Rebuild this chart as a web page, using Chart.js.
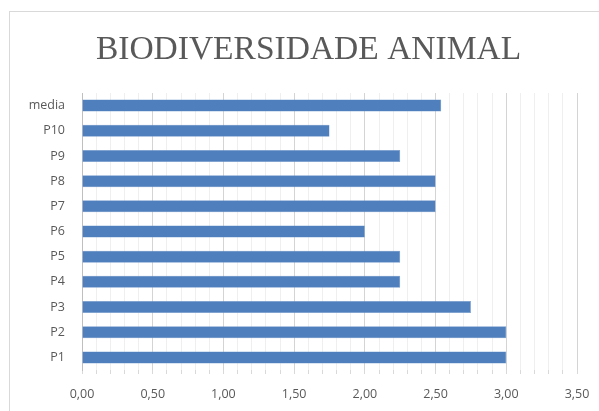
<!DOCTYPE html>
<html>
<head>
<meta charset="utf-8">
<script src="https://cdn.jsdelivr.net/npm/chart.js@4/dist/chart.umd.min.js"></script>
<style>
  body { margin: 0; background: #fff; }
  #wrap { position: relative; width: 599px; height: 411px; overflow: hidden; }
  #frame { position: absolute; left: 9px; top: 11px; width: 700px; height: 500px;
           border-left: 1px solid #d9d9d9; border-top: 1px solid #d9d9d9; }
  canvas { position: absolute; left: 0; top: 0; }
</style>
</head>
<body>
<div id="wrap">
  <div id="frame"></div>
  <canvas id="biodivChart" width="599" height="411"></canvas>
</div>
<script>
// dados
const categorias = ["P1", "P2", "P3", "P4", "P5", "P6", "P7", "P8", "P9", "P10", "media"];
const valores = [3.00, 3.00, 2.75, 2.25, 2.25, 2.00, 2.50, 2.50, 2.25, 1.75, 2.54];
const tituloGrafico = "BIODIVERSIDADE ANIMAL";
const eixoMin = 0, eixoMax = 3.5, passoMenor = 0.1;

const cinzaTexto = '#595959';

// linha principal a cada 0,5 ; secundária a cada 0,1
function ehPrincipal(v) {
    return Math.round(v * 10) % 5 === 0;
}

// título desenhado à mão, centrado na moldura (não no canvas)
const tituloPlugin = {
    id: 'tituloPlugin',
    afterDraw(chart) {
        let c = chart.ctx;
        c.save();
        c.fillStyle = cinzaTexto;
        c.font = '33.5px "Liberation Serif", serif';
        c.textAlign = 'center';
        c.textBaseline = 'alphabetic';
        c.fillText(tituloGrafico, 308.5, 59);
        c.restore();
    }
};

let ctx = document.getElementById('biodivChart').getContext('2d');
let chart = new Chart(ctx, {
    type: 'bar',
    data: {
        labels: categorias,
        datasets: [{
            data: valores,
            backgroundColor: '#4f7fbd',
            borderColor: '#6a95c9',
            borderWidth: 0.5,
            barPercentage: 0.476,
            categoryPercentage: 1
        }]
    },
    plugins: [tituloPlugin],
    options: {
        responsive: false,
        animation: false,
        indexAxis: 'y',
        layout: { padding: { left: 0, right: 22, top: 93, bottom: 0 } },
        plugins: {
            legend: { display: false },
            tooltip: { enabled: false },
            title: { display: false }
        },
        scales: {
            x: {
                min: eixoMin,
                max: eixoMax,
                ticks: {
                    stepSize: passoMenor,
                    autoSkip: false,
                    maxRotation: 0,
                    padding: 13,
                    color: cinzaTexto,
                    font: { family: '"Open Sans", sans-serif', size: 12.5 },
                    callback: function(v) {
                        return ehPrincipal(v) ? v.toFixed(2).replace('.', ',') : '';
                    }
                },
                grid: {
                    color: function(c) { return ehPrincipal(c.tick.value) ? '#d4d4d4' : '#efefef'; },
                    tickColor: '#d9d9d9',
                    tickLength: 4,
                    lineWidth: 1
                },
                border: { display: false },
                afterFit: function(scale) {
                    scale.height = 41;
                    scale.paddingLeft = 0;
                    scale.paddingRight = 0;
                }
            },
            y: {
                reverse: true,
                ticks: {
                    padding: 17,
                    color: cinzaTexto,
                    font: { family: '"Open Sans", sans-serif', size: 12.5 }
                },
                grid: { display: false, drawTicks: false },
                border: { display: true, color: '#bfbfbf' },
                afterFit: function(scale) { scale.width = 82; }
            }
        }
    }
});
</script>
</body>
</html>
